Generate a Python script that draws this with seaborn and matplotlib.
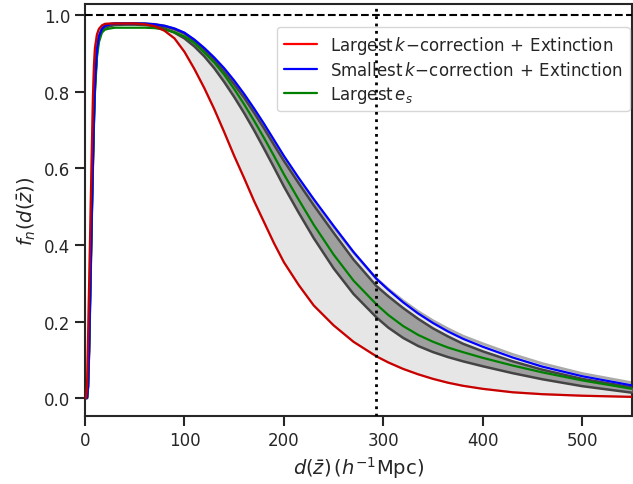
import numpy as np
import pandas as pd
import matplotlib
matplotlib.use('Agg')
import matplotlib.pyplot as plt
import seaborn as sns

# distance grid (h^-1 Mpc)
dist = [0, 1, 2, 3, 4, 5, 6, 7, 8, 9, 10, 12, 14, 17, 20, 25, 30, 40, 50, 60,
        70, 80, 90, 100, 110, 120, 130, 140, 150, 160, 170, 180, 190, 200,
        215, 230, 250, 270, 293, 305, 320, 335, 350, 365, 380, 400, 430, 460, 500, 550]

largest_k = [0.0, 0.0, 0.03, 0.15, 0.28, 0.41, 0.54, 0.67, 0.79, 0.87, 0.915, 0.95, 0.965, 0.974, 0.978,
             0.979, 0.979, 0.979, 0.979, 0.977,
             0.972, 0.96, 0.94, 0.905, 0.86, 0.81, 0.755, 0.695, 0.633, 0.575, 0.515, 0.46, 0.405, 0.355,
             0.295, 0.242, 0.19, 0.147, 0.109, 0.093, 0.076, 0.062, 0.05, 0.04, 0.032, 0.024, 0.015, 0.01,
             0.006, 0.003]

smallest_k = [0.0, 0.0, 0.0, 0.03, 0.12, 0.25, 0.38, 0.51, 0.63, 0.74, 0.82, 0.91, 0.945, 0.965, 0.973,
              0.977, 0.979, 0.979, 0.979, 0.979,
              0.977, 0.973, 0.966, 0.955, 0.937, 0.915, 0.89, 0.862, 0.83, 0.795, 0.757, 0.717, 0.675, 0.633,
              0.575, 0.52, 0.45, 0.382, 0.312, 0.283, 0.25, 0.221, 0.196, 0.174, 0.155, 0.134, 0.106, 0.082,
              0.057, 0.033]

largest_es = [0.0, 0.0, 0.0, 0.03, 0.12, 0.25, 0.38, 0.5, 0.62, 0.72, 0.8, 0.89, 0.93, 0.955, 0.963,
              0.966, 0.968, 0.968, 0.968, 0.968,
              0.967, 0.963, 0.956, 0.945, 0.928, 0.903, 0.877, 0.845, 0.808, 0.768, 0.725, 0.68, 0.633, 0.585,
              0.518, 0.453, 0.375, 0.307, 0.245, 0.217, 0.188, 0.165, 0.147, 0.132, 0.12, 0.105, 0.085, 0.067,
              0.046, 0.024]

# outer (light) envelope upper edge
light_upper = [0.0, 0.0, 0.0, 0.03, 0.12, 0.25, 0.38, 0.51, 0.63, 0.74, 0.82, 0.91, 0.945, 0.965, 0.973,
               0.977, 0.979, 0.979, 0.979, 0.979,
               0.977, 0.973, 0.965, 0.954, 0.935, 0.912, 0.886, 0.857, 0.825, 0.79, 0.752, 0.712, 0.669, 0.627,
               0.569, 0.515, 0.446, 0.38, 0.312, 0.285, 0.254, 0.226, 0.202, 0.181, 0.162, 0.142, 0.114, 0.09,
               0.064, 0.04]

# inner (dark) envelope
dark_upper = [0.0, 0.0, 0.0, 0.03, 0.12, 0.25, 0.38, 0.51, 0.63, 0.74, 0.82, 0.91, 0.945, 0.965, 0.973,
              0.977, 0.979, 0.979, 0.979, 0.978,
              0.976, 0.972, 0.964, 0.953, 0.933, 0.91, 0.883, 0.853, 0.82, 0.785, 0.746, 0.705, 0.662, 0.62,
              0.561, 0.504, 0.432, 0.362, 0.293, 0.266, 0.235, 0.207, 0.182, 0.161, 0.142, 0.122, 0.096, 0.074,
              0.05, 0.028]

dark_lower = [0.0, 0.0, 0.0, 0.03, 0.12, 0.25, 0.38, 0.51, 0.63, 0.74, 0.82, 0.905, 0.94, 0.96, 0.968,
              0.972, 0.975, 0.976, 0.976, 0.975,
              0.972, 0.966, 0.955, 0.94, 0.919, 0.893, 0.862, 0.826, 0.787, 0.745, 0.70, 0.652, 0.603, 0.553,
              0.484, 0.418, 0.339, 0.272, 0.211, 0.184, 0.157, 0.136, 0.12, 0.107, 0.096, 0.083, 0.065, 0.049,
              0.031, 0.014]

d_ref = 293

sns.set_style('ticks')
plt.rcParams['font.family'] = ['DejaVu Sans']
plt.rcParams['mathtext.fontset'] = 'dejavusans'

df = pd.DataFrame({'d': dist, 'red': largest_k, 'blue': smallest_k, 'green': largest_es})

fig = plt.figure(figsize=(6.33, 4.85), dpi=100)
ax = fig.add_axes([0.1343, 0.1402, 0.8640, 0.8495])

ax.fill_between(dist, largest_k, light_upper, color='#e6e6e6', lw=0, zorder=1)
ax.plot(dist, light_upper, color='#aaaaaa', lw=2, zorder=2)
ax.fill_between(dist, dark_lower, dark_upper, color='#9f9f9f', lw=0, zorder=3)
ax.plot(dist, dark_upper, color='#444444', lw=1.8, zorder=4)
ax.plot(dist, dark_lower, color='#444444', lw=1.8, zorder=4)

sns.lineplot(data=df, x='d', y='green', color='green', lw=1.6, ax=ax, zorder=5,
             label=r'Largest$\,e_s$')
sns.lineplot(data=df, x='d', y='blue', color='blue', lw=1.6, ax=ax, zorder=6,
             label=r'Smallest$\,k\!-\!$correction$\,+\,$Extinction')
sns.lineplot(data=df, x='d', y='red', color='red', lw=1.6, ax=ax, zorder=7,
             label=r'Largest$\,k\!-\!$correction$\,+\,$Extinction')
ax.plot(dist, largest_k, color='k', alpha=0.22, lw=1.6, zorder=8)

ax.axhline(1.0, color='k', ls='--', lw=1.5, zorder=9)
ax.axvline(d_ref, color='k', ls=':', lw=2, zorder=9)

ax.set_xlim(0, 550)
ax.set_ylim(-0.047, 1.03)
ax.set_xticks([0, 100, 200, 300, 400, 500])
ax.set_yticks([0.0, 0.2, 0.4, 0.6, 0.8, 1.0])
ax.set_xlabel(r'$d(\bar{z})\,(h^{-1}\mathrm{Mpc})$', fontsize=14)
ax.set_ylabel(r'$f_n(d(\bar{z}))$', fontsize=14)
ax.tick_params(axis='both', labelsize=12, length=7, width=1.5, direction='out')
for s in ax.spines.values():
    s.set_linewidth(1.5)

h, l = ax.get_legend_handles_labels()
ax.legend(h[::-1], l[::-1], loc='upper right', fontsize=12, frameon=True,
          labelspacing=0.3, borderaxespad=0.3, bbox_to_anchor=(1.005, 0.956))

plt.savefig('out.png', dpi=100)
